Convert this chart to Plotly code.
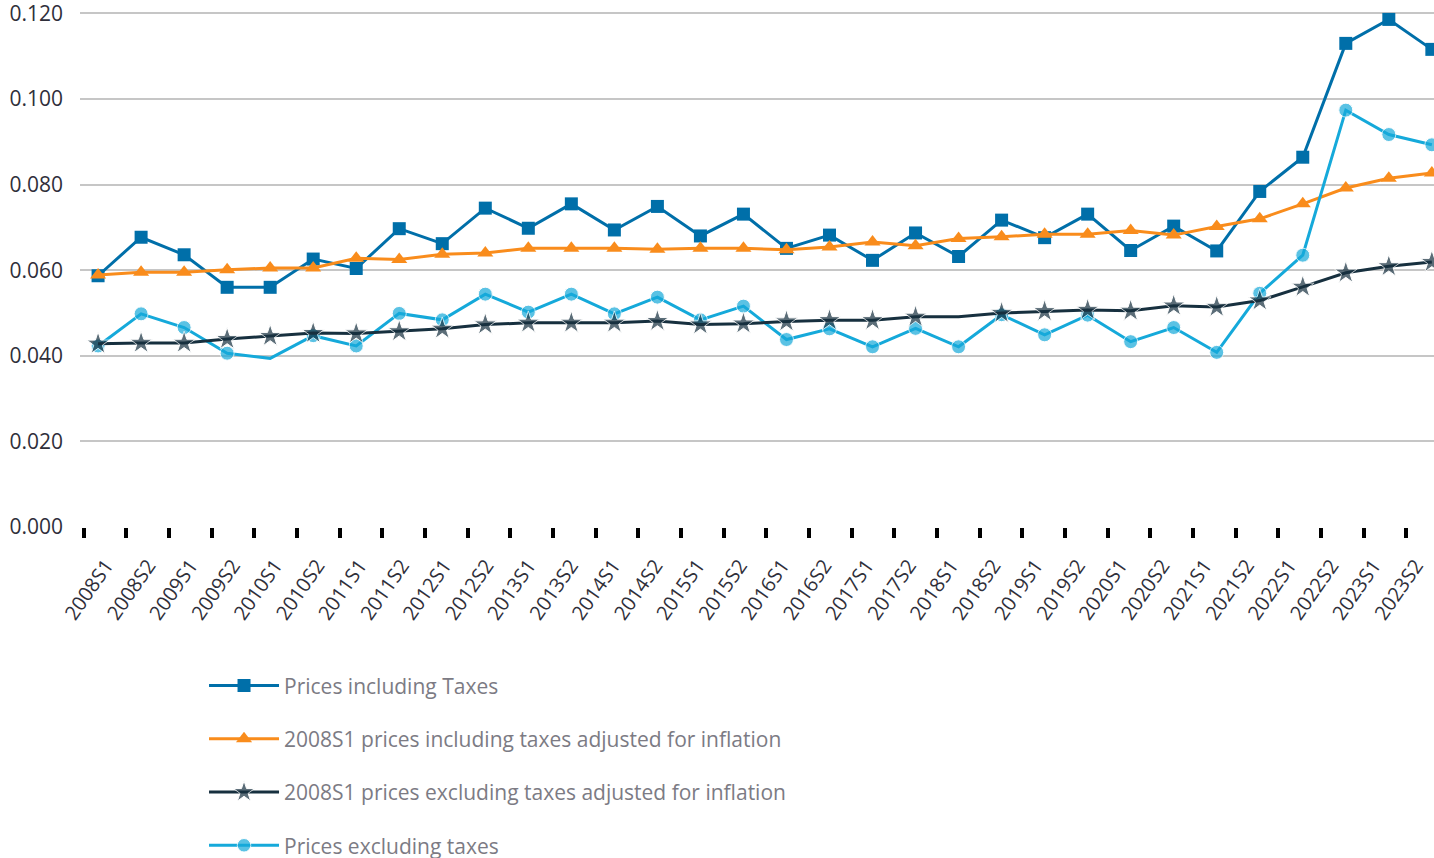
import plotly.graph_objects as go

# Half-year periods
periods = [f"{y}S{h}" for y in range(2008, 2024) for h in (1, 2)]

# Electricity prices per half-year (EUR/kWh)
incl_taxes = [0.0587, 0.0677, 0.0636, 0.0560, 0.0560, 0.0626, 0.0604, 0.0697,
              0.0662, 0.0745, 0.0698, 0.0755, 0.0694, 0.0749, 0.0680, 0.0731,
              0.0651, 0.0682, 0.0623, 0.0687, 0.0632, 0.0717, 0.0676, 0.0731,
              0.0646, 0.0703, 0.0645, 0.0784, 0.0864, 0.1130, 0.1186, 0.1116]

incl_taxes_infl = [0.0589, 0.0595, 0.0595, 0.0601, 0.0605, 0.0605, 0.0628, 0.0625,
                   0.0637, 0.0640, 0.0651, 0.0651, 0.0651, 0.0649, 0.0651, 0.0651,
                   0.0648, 0.0654, 0.0666, 0.0657, 0.0674, 0.0678, 0.0684, 0.0684,
                   0.0693, 0.0682, 0.0702, 0.0720, 0.0755, 0.0792, 0.0815, 0.0827]

excl_taxes_infl = [0.0428, 0.0430, 0.0430, 0.0439, 0.0446, 0.0453, 0.0452, 0.0457,
                   0.0463, 0.0473, 0.0477, 0.0477, 0.0477, 0.0481, 0.0473, 0.0475,
                   0.0480, 0.0483, 0.0483, 0.0491, 0.0491, 0.0500, 0.0504, 0.0507,
                   0.0505, 0.0517, 0.0514, 0.0529, 0.0561, 0.0594, 0.0609, 0.0619]

excl_taxes = [0.0423, 0.0498, 0.0466, 0.0406, 0.0394, 0.0447, 0.0423, 0.0499,
              0.0484, 0.0544, 0.0502, 0.0544, 0.0498, 0.0537, 0.0484, 0.0516,
              0.0438, 0.0463, 0.0421, 0.0464, 0.0421, 0.0496, 0.0449, 0.0495,
              0.0433, 0.0466, 0.0408, 0.0546, 0.0635, 0.0974, 0.0917, 0.0893]

# Periods whose marker is not drawn (line only)
no_marker_excl_taxes = ["2010S1"]
no_marker_excl_infl = ["2018S1"]

y_ticks = [0.0, 0.02, 0.04, 0.06, 0.08, 0.10, 0.12]

BLUE = "#006FA9"
ORANGE = "#F98C1C"
DARK = "#17303F"
CYAN = "#15A9DA"


def sizes(base, hidden):
    return [0 if p in hidden else base for p in periods]


fig = go.Figure()

fig.add_trace(go.Scatter(
    x=periods, y=incl_taxes, name="Prices including Taxes",
    mode="lines+markers", legendrank=1, legendgroup="a",
    line=dict(color=BLUE, width=3),
    marker=dict(symbol="square", size=13, color=BLUE),
))
fig.add_trace(go.Scatter(
    x=periods, y=incl_taxes_infl,
    name="2008S1 prices including taxes adjusted for inflation",
    mode="lines+markers", legendrank=2, legendgroup="b",
    line=dict(color=ORANGE, width=3),
    marker=dict(symbol="triangle-up", size=14, color=ORANGE),
))
fig.add_trace(go.Scatter(
    x=periods, y=excl_taxes, name="Prices excluding taxes",
    mode="lines+markers", legendrank=4, legendgroup="d",
    line=dict(color=CYAN, width=3),
    marker=dict(symbol="circle", size=sizes(14, no_marker_excl_taxes), color=CYAN),
))
fig.add_trace(go.Scatter(
    x=periods, y=excl_taxes_infl,
    name="2008S1 prices excluding taxes adjusted for inflation",
    mode="lines+markers", legendrank=3, legendgroup="c",
    line=dict(color=DARK, width=3),
    marker=dict(symbol="star", size=sizes(17, no_marker_excl_infl), color=DARK),
))

n = len(periods)
x_range = [-0.42, n - 1 + 0.05]
# Tick-mark and label placement along the category axis (in category units)
tick_marks = [-0.337 + i * 0.9917 for i in range(n)]
label_pos = [0.186 + i * 0.982 for i in range(n)]

# Empty carrier traces so the overlaid helper axes are rendered
for ax in ("x2", "x3"):
    fig.add_trace(go.Scatter(
        x=[x_range[0], x_range[1]], y=[None, None], xaxis=ax, mode="lines",
        showlegend=False, hoverinfo="skip",
    ))

fig.update_layout(
    width=1434, height=858,
    margin=dict(l=80, r=0, t=7, b=0, autoexpand=False),
    paper_bgcolor="white", plot_bgcolor="white",
    font=dict(family="Open Sans, Noto Sans, sans-serif", size=20, color="#2F2F3A"),
    showlegend=True,
    legend=dict(
        x=0.0916, y=0.2265, xanchor="left", yanchor="top",
        orientation="v", tracegroupgap=23, itemwidth=70,
        font=dict(size=21, color="#7C7B84"),
        bgcolor="rgba(0,0,0,0)",
    ),
    xaxis=dict(
        type="category", range=x_range, automargin=False,
        showgrid=False, zeroline=False, showline=False,
        ticks="", showticklabels=False,
    ),
    xaxis2=dict(
        overlaying="x", type="linear", range=x_range, side="bottom",
        automargin=False,
        tickmode="array", tickvals=tick_marks, showticklabels=False,
        ticks="outside", ticklen=10, tickwidth=4, tickcolor="black",
        showgrid=False, zeroline=False, showline=False,
    ),
    xaxis3=dict(
        overlaying="x", type="linear", range=x_range, side="bottom",
        automargin=False,
        tickmode="array", tickvals=label_pos, ticktext=periods,
        ticks="", tickangle=-55, ticklabelstandoff=22,
        tickfont=dict(size=20, color="#2F2F3A"),
        showgrid=False, zeroline=False, showline=False,
    ),
    yaxis=dict(
        domain=[0.389, 1.0],
        range=[0, 0.1215], tickmode="array", tickvals=y_ticks, automargin=False,
        tickformat=".3f", showgrid=True, gridcolor="#C6C6C6", gridwidth=2,
        zeroline=False, showline=False, ticks="",
        ticklabelstandoff=16, ticklabeloverflow="allow",
        tickfont=dict(size=21, color="#2F2F3A"),
    ),
)

fig.write_html("out.html")
